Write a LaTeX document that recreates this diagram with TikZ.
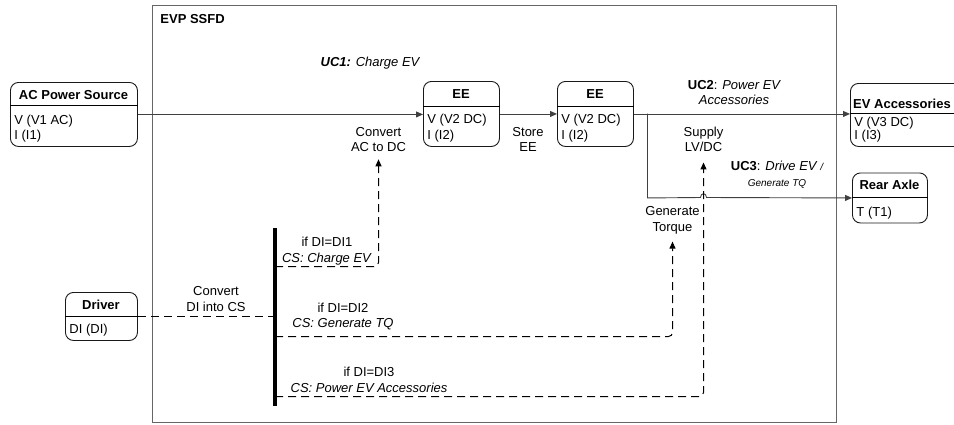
\documentclass[tikz,border=0pt]{standalone}
\usepackage{fontspec}
\setmainfont{Liberation Sans}
\usetikzlibrary{arrows.meta}
\newcommand{\dfont}{\fontsize{13}{15.5}\selectfont}

\begin{document}
\begin{tikzpicture}[x=1pt, y=-1pt, >={Triangle[length=7pt,width=6pt]},
    line width=0.9pt, font=\dfont,
    block/.style={draw=black!90, rounded corners=8pt, anchor=north west, inner sep=0pt},
    head/.style={font=\dfont\bfseries, anchor=base, inner sep=0pt},
    body/.style={font=\dfont, align=left, anchor=base west, inner sep=0pt},
    lbl/.style={font=\dfont, align=center, inner sep=1pt},
    wire/.style={draw=black!75},
    ctrl/.style={draw=black, line width=1pt, dash pattern=on 8pt off 5pt, rounded corners=4pt}]
    \clip (0,0) rectangle (954,424);

    % System frame
    \draw[draw=black!60] (152.5,5.5) rectangle (836.5,422.5);
    \node[anchor=base west, inner sep=0pt, font=\dfont\bfseries] (ssfd) at (160,23.5) {EVP SSFD};

    % AC Power Source
    \node[block, minimum width=127pt, minimum height=64pt] (acsrc) at (10,82) {};
    \draw ([yshift=-23pt]acsrc.north west) -- ([yshift=-23pt]acsrc.north east);
    \node[head] (acsrc-h) at (73.5,99) {AC Power Source};
    \node[body] (acsrc-b) at (14,139.5) {V (V1 AC)\\I (I1)};

    % EE (1)
    \node[block, minimum width=76pt, minimum height=65pt] (ee1) at (423,81) {};
    \draw ([yshift=-25pt]ee1.north west) -- ([yshift=-25pt]ee1.north east);
    \node[head] (ee1-h) at (461,98) {EE};
    \node[body] (ee1-b) at (427,139) {V (V2 DC)\\I (I2)};

    % EE (2)
    \node[block, minimum width=76pt, minimum height=65pt] (ee2) at (557,81) {};
    \draw ([yshift=-25pt]ee2.north west) -- ([yshift=-25pt]ee2.north east);
    \node[head] (ee2-h) at (595,98) {EE};
    \node[body] (ee2-b) at (561,139) {V (V2 DC)\\I (I2)};

    % EV Accessories
    \node[block, minimum width=130pt, minimum height=63pt] (evacc) at (850,83) {};
    \draw ([yshift=-30pt]evacc.north west) -- ([yshift=-30pt]evacc.north east);
    \node[head] (evacc-h) at (902,108) {EV Accessories};
    \node[body, font=\fontsize{13}{13}\selectfont] (evacc-b) at (854,139.5) {V (V3 DC)\\I (I3)};

    % Rear Axle
    \node[block, minimum width=75pt, minimum height=50pt] (rear) at (852,172.5) {};
    \draw ([yshift=-25pt]rear.north west) -- ([yshift=-25pt]rear.north east);
    \node[head] (rear-h) at (889.5,189.5) {Rear Axle};
    \node[body] (rear-b) at (856,216) {T (T1)};

    % Driver
    \node[block, minimum width=72pt, minimum height=48pt] (driver) at (65,292) {};
    \draw ([yshift=-24pt]driver.north west) -- ([yshift=-24pt]driver.north east);
    \node[head] (driver-h) at (101,309.5) {Driver};
    \node[body] (driver-b) at (69,333.5) {DI (DI)};

    % Function labels
    \node[lbl] (acdc) at (378.5,139.5) {Convert\\AC to DC};
    \node[lbl] (store) at (528,139.5) {Store\\EE};
    \node[lbl] (lvdc) at (703.5,139.5) {Supply\\LV/DC};
    \node[lbl] (torque) at (672.5,220.5) {Generate\\Torque};
    \node[lbl] (dics) at (216,299) {Convert\\DI into CS};

    % Use cases
    \node[lbl, font=\dfont\itshape] (uc1) at (370,63) {\textbf{UC1:} Charge EV};
    \node[lbl, font=\dfont\itshape] (uc2) at (734,92.5) {{\upshape\textbf{UC2}:} Power EV\\Accessories};
    \node[lbl, font=\dfont\itshape] (uc3) at (777,174.5)
        {{\upshape\textbf{UC3}:} Drive EV {\fontsize{10}{12}\selectfont/}\\{\fontsize{10}{12}\selectfont Generate TQ}};

    % Power flow
    \draw[wire, ->] (acsrc.east) -- (acsrc.east -| ee1.west);
    \draw[wire, ->] (ee1) -- (ee2);
    \draw[wire, ->] (ee2.east) -- (ee2.east -| evacc.west);
    \coordinate (split) at (647.5,113.5);
    \draw[wire, ->] (split) -- (split |- rear.west) -- (700.5,197.5)
        .. controls (700.5,192.5) and (706.5,192.5) .. (706.5,197.5) -- (rear.west);

    % Control signals
    \coordinate (cs1) at (275,266.5);
    \coordinate (cs2) at (275,336.5);
    \coordinate (cs3) at (275,396.5);
    \draw[ctrl] (driver.east) -- (driver.east -| cs1);
    \draw[ctrl, ->, shorten >=6pt] (cs1) -| (acdc);
    \draw[ctrl, ->, shorten >=6pt] (cs2) -| (torque);
    \draw[ctrl, ->, shorten >=9pt] (cs3) -| (lvdc);
    \node[fill=black, minimum width=3.5pt, minimum height=178pt, inner sep=0pt] (bar) at (275,317) {};

    \node[lbl] (if1) at (327,251) {if DI=DI1\\\textit{CS: Charge EV}};
    \node[lbl] (if2) at (343,316.5) {if DI=DI2\\\textit{CS: Generate TQ}};
    \node[lbl] (if3) at (369,380) {if DI=DI3\\\textit{CS: Power EV Accessories}};
\end{tikzpicture}
\end{document}
